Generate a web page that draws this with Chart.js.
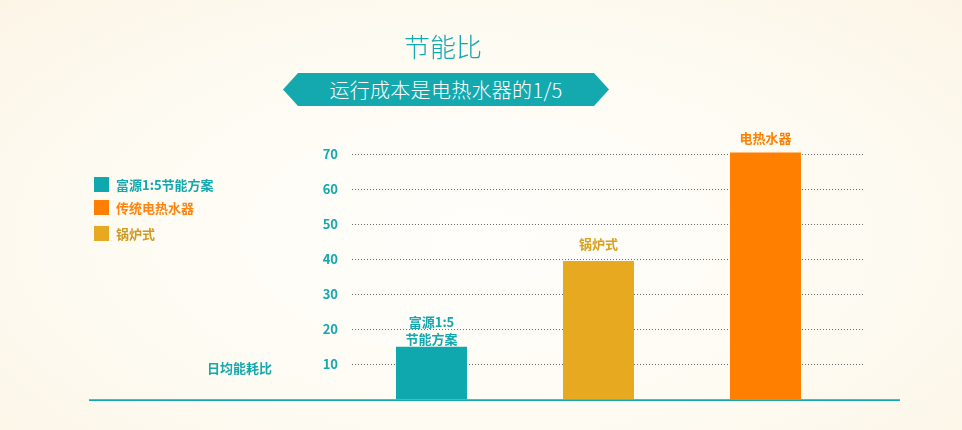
<!DOCTYPE html>
<html>
<head>
<meta charset="utf-8">
<script src="https://cdn.jsdelivr.net/npm/chart.js@4"></script>
<style>
  html, body { margin:0; padding:0; }
  body { width:962px; height:430px; overflow:hidden; position:relative;
    background: radial-gradient(ellipse 70% 80% at 50% 55%, #fffefb 0%, #fefbf3 55%, #fcf5e6 100%);
    font-family: "Noto Sans CJK SC", sans-serif; }
  #wrap { position:absolute; left:0; top:0; width:962px; height:430px; }
  .title { position:absolute; left:343px; width:200px; top:28px; text-align:center;
    font-size:26px; font-weight:300; color:#13a7ae; line-height:36px; }
  .banner { position:absolute; left:283px; top:73px; width:326px; height:33px; background:#13a9ae;
    clip-path: polygon(0 50%, 15px 0, calc(100% - 15px) 0, 100% 50%, calc(100% - 15px) 100%, 15px 100%);
    color:#fff; font-size:20px; font-weight:300; text-align:center; line-height:33px; letter-spacing:0.3px; }
  .legend { position:absolute; left:94px; font-size:13px; font-weight:bold; line-height:15px; }
  .legend i { display:inline-block; width:15px; height:15px; vertical-align:top; margin-right:7px; }
  .ylab { position:absolute; left:207px; top:358px; font-size:13px; font-weight:bold; color:#13a7ae; }
</style>
</head>
<body>
<div id="wrap"><canvas id="c"></canvas></div>
<div class="title">节能比</div>
<div class="banner">运行成本是电热水器的1/5</div>
<div id="legend"></div>
<div class="ylab">日均能耗比</div>
<script>
// ---- data ----
const categories = ["富源1:5节能方案", "锅炉式", "电热水器"];
const barLabels = [["富源1:5", "节能方案"], ["锅炉式"], ["电热水器"]];
const values = [15, 39.5, 70.5];
const barColors = ["#0ea8ae", "#e6a920", "#ff7f00"];
const yTicks = [10, 20, 30, 40, 50, 60, 70];
const legendNames = ["富源1:5节能方案", "传统电热水器", "锅炉式"];
const legendColors = ["#0ea8ae", "#ff7f00", "#e6a920"];
const legendTextColors = ["#13a7ae", "#ff8410", "#d09a22"];

// ---- legend (HTML) ----
const legendTops = [177, 200, 226];
const lg = document.getElementById('legend');
legendNames.forEach((n, i) => {
  const d = document.createElement('div');
  d.className = 'legend';
  d.style.top = legendTops[i] + 'px';
  d.style.color = legendTextColors[i];
  d.innerHTML = '<i style="background:' + legendColors[i] + '"></i>' + n;
  lg.appendChild(d);
});

const TEAL = "#13a7ae";
const labelColors = ["#13a7ae", "#d9a020", "#ff7f00"];

const decor = {
  id: 'decor',
  beforeDatasetsDraw(chart) {
    const y = chart.scales.y, ctx = chart.ctx;
    ctx.save();
    ctx.strokeStyle = "#6b6b6b";
    ctx.lineWidth = 1;
    ctx.setLineDash([1, 2]);
    yTicks.forEach(v => {
      const py = Math.round(y.getPixelForValue(v)) + 0.5;
      ctx.beginPath(); ctx.moveTo(352, py); ctx.lineTo(865, py); ctx.stroke();
    });
    ctx.restore();
  },
  afterDatasetsDraw(chart) {
    const y = chart.scales.y, ctx = chart.ctx;
    ctx.save();
    ctx.strokeStyle = TEAL; ctx.lineWidth = 1.6;
    const py0 = y.getPixelForValue(0) + 0.8;
    ctx.beginPath(); ctx.moveTo(89, py0); ctx.lineTo(900, py0); ctx.stroke();
    const meta = chart.getDatasetMeta(0);
    const offsets = [8, 17, 14];
    ctx.font = 'bold 13px "Noto Sans CJK SC"';
    ctx.textAlign = 'center'; ctx.textBaseline = 'middle';
    meta.data.forEach((bar, i) => {
      ctx.fillStyle = labelColors[i];
      const lines = barLabels[i];
      lines.forEach((t, k) => {
        const yy = bar.y - offsets[i] - (lines.length - 1 - k) * 17;
        ctx.fillText(t, bar.x, yy);
      });
    });
    ctx.restore();
  }
};

new Chart(document.getElementById('c'), {
  type: 'bar',
  data: {
    labels: categories,
    datasets: [{ data: values, backgroundColor: barColors, borderWidth: 0,
      barPercentage: 1, categoryPercentage: 0.425 }]
  },
  options: {
    responsive: true, maintainAspectRatio: false, animation: false,
    devicePixelRatio: 1,
    layout: { padding: { left: 288, right: 113, top: 147.3, bottom: 30.7 } },
    plugins: { legend: { display: false }, tooltip: { enabled: false } },
    scales: {
      x: { display: false },
      y: {
        min: 0, max: 72,
        afterFit(s) { s.width = 60; },
        afterBuildTicks(s) { s.ticks = yTicks.map(v => ({ value: v })); },
        grid: { display: false, drawTicks: false },
        border: { display: false },
        ticks: { color: TEAL, padding: 10, font: { family: 'Noto Sans CJK SC', size: 13, weight: 'bold' } }
      }
    }
  },
  plugins: [decor]
});
</script>
</body>
</html>
